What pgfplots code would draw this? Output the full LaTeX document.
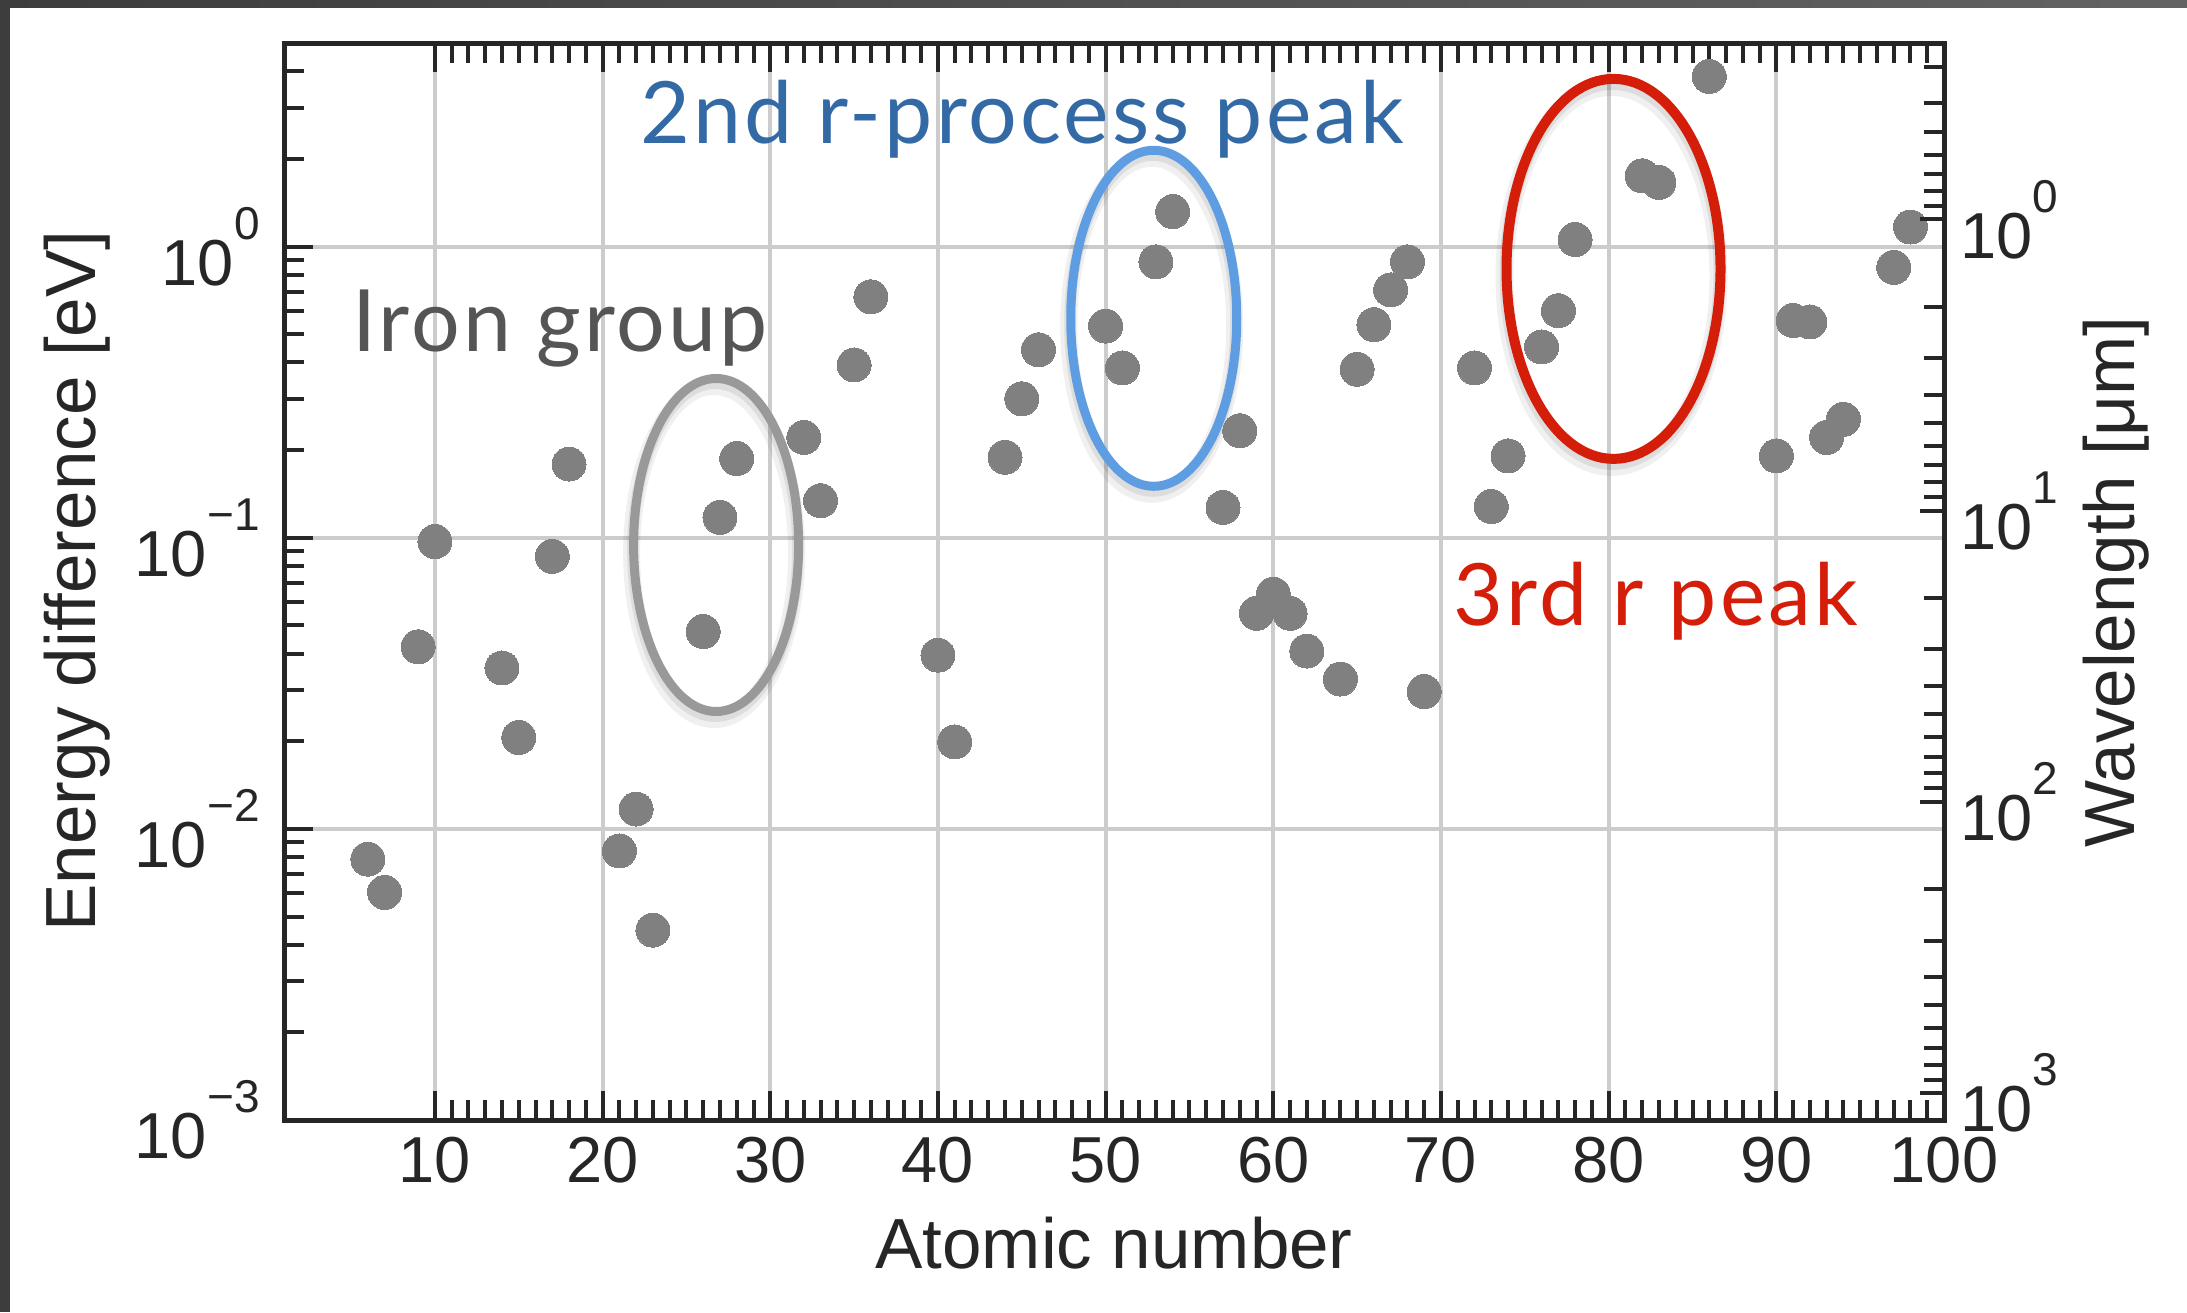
\documentclass[border=0pt]{standalone}
\usepackage{pgfplots}
\pgfplotsset{compat=1.18}
\usepackage{fontspec}
\setmainfont{Liberation Sans}
\newfontfamily\annfont{Lato}[LetterSpace=3.5]

\definecolor{axiscol}{HTML}{262626}
\definecolor{gridcol}{HTML}{CCCCCC}
\definecolor{dotcol}{HTML}{808080}
\definecolor{irongray}{HTML}{999999}
\definecolor{irontext}{HTML}{555555}
\definecolor{peakblue}{HTML}{5E9DE2}
\definecolor{peakbluetext}{HTML}{336AA6}
\definecolor{peakred}{HTML}{D41E0A}
\definecolor{framedark}{HTML}{3D3D3D}
\definecolor{framelight}{HTML}{636363}

\newcommand\tickfont{\fontsize{32.5pt}{36pt}\selectfont}
\newcommand\labelfont{\fontsize{35.5pt}{40pt}\selectfont}
\newcommand\annsize{\annfont\fontsize{43pt}{50pt}\selectfont}
% "10" with a raised exponent
\newcommand\pow[1]{10\raisebox{23pt}{\fontsize{23pt}{23pt}\selectfont #1}}
% ring with a soft shadow: x, y, x radius, y radius, line width, colour
\newcommand\ring[6]{%
  \draw[black, opacity=0.06, line width=#5+4pt, xshift=-1pt, yshift=-4pt]
    (axis cs:#1,#2) ellipse [x radius=#3, y radius=#4];
  \draw[black, opacity=0.08, line width=#5+1pt, xshift=-0.5pt, yshift=-2.5pt]
    (axis cs:#1,#2) ellipse [x radius=#3, y radius=#4];
  \draw[#6, line width=#5] (axis cs:#1,#2) ellipse [x radius=#3, y radius=#4];
}

\pgfplotstableread{
Z E
6 0.00787
7 0.00605
9 0.0422
10 0.0970
14 0.0357
15 0.0206
17 0.0863
18 0.179
21 0.0084
22 0.0117
23 0.00449
26 0.0476
27 0.1175
28 0.187
32 0.221
33 0.134
35 0.392
36 0.672
40 0.0395
41 0.0199
44 0.189
45 0.300
46 0.442
50 0.533
51 0.383
53 0.886
54 1.318
57 0.127
58 0.233
59 0.055
60 0.064
61 0.055
62 0.0408
64 0.0327
65 0.379
66 0.539
67 0.710
68 0.886
69 0.0296
72 0.383
73 0.128
74 0.191
76 0.452
77 0.602
78 1.057
82 1.75
83 1.66
86 3.84
90 0.191
91 0.557
92 0.551
93 0.221
94 0.255
97 0.848
98 1.167
}\lines

\begin{document}
\begin{tikzpicture}
\path[use as bounding box] (0,0) rectangle (1093.5pt,-656pt);

\begin{axis}[
  at={(142pt,-560pt)}, anchor=south west,
  scale only axis, width=830pt, height=538.5pt,
  xmin=1, xmax=100, ymin=1e-3, ymax=5,
  ymode=log,
  xtick={10,20,...,100},
  minor x tick num=9,
  ytick={1e-3,1e-2,1e-1,1},
  yticklabels={\pow{−3},\pow{−2},\pow{−1},\pow{0}},
  minor ytick={0.002,0.003,0.004,0.005,0.006,0.007,0.008,0.009,
               0.02,0.03,0.04,0.05,0.06,0.07,0.08,0.09,
               0.2,0.3,0.4,0.5,0.6,0.7,0.8,0.9,2,3,4},
  ytick pos=left,
  xtick pos=both,
  xticklabel pos=bottom,
  tick align=inside,
  grid=major,
  major grid style={gridcol, line width=2pt},
  axis line style={axiscol, line width=2.5pt},
  every tick/.style={axiscol, line width=2pt},
  major tick length=14.5pt, minor tick length=10pt,
  tick label style={font=\tickfont, text=axiscol,
    /pgf/number format/assume math mode=true},
  x tick label style={inner sep=0pt, yshift=-8.5pt},
  y tick label style={inner sep=0pt, xshift=-12pt},
  clip=false,
]
\addplot[only marks, color=dotcol, mark=*, mark size=8.5pt,
  mark options={fill=dotcol, draw=dotcol, line width=0pt}] table[x=Z, y=E] {\lines};

\ring{26.77}{0.0944}{41.25pt}{83.25pt}{4.5pt}{irongray}
\ring{52.87}{0.567}{41.5pt}{84pt}{4.5pt}{peakblue}
\ring{80.29}{0.838}{53.5pt}{95pt}{5pt}{peakred}
\end{axis}

% wavelength scale, lambda = 1.23984 / E
\begin{axis}[
  at={(142pt,-560pt)}, anchor=south west,
  scale only axis, width=830pt, height=538.5pt,
  xmin=1, xmax=100,
  ymode=log, y dir=reverse,
  ymin=0.247968, ymax=1239.84,
  hide x axis,
  ytick pos=right, yticklabel pos=right,
  ytick={1,10,100,1000},
  yticklabels={\pow{0},\pow{1},\pow{2},\pow{3}},
  minor ytick={0.3,0.4,0.5,0.6,0.7,0.8,0.9,2,3,4,5,6,7,8,9,
               20,30,40,50,60,70,80,90,200,300,400,500,600,700,800,900},
  tick align=inside,
  axis line style={axiscol, line width=2.5pt},
  every tick/.style={axiscol, line width=2pt},
  major tick length=12pt, minor tick length=10pt,
  tick label style={font=\tickfont, text=axiscol},
  y tick label style={inner sep=0pt, xshift=8pt},
]
\end{axis}

\begin{scope}[x=0.5pt, y=-0.5pt]
  % window edge
  \fill[framedark] (0,0) rectangle (10,1312);
  \shade[left color=framedark, right color=framelight] (0,0) rectangle (2187,7);

  \node[anchor=base, font=\labelfont, text=axiscol] at (1114,1268) {Atomic number};
  \node[rotate=90, anchor=base, font=\labelfont, text=axiscol] at (95,581) {Energy difference [eV]};
  \node[rotate=90, anchor=base, font=\labelfont, text=axiscol] at (2134,582) {Wavelength [μm]};

  \node[anchor=base, font=\annsize, text=peakbluetext] at (1022,143) {2nd r-process peak};
  \node[anchor=base, font=\annsize, text=irontext] at (560,351) {Iron group};
  \node[anchor=base, font=\annsize, text=peakred] at (1656,625) {3rd r peak};
\end{scope}
\end{tikzpicture}
\end{document}
